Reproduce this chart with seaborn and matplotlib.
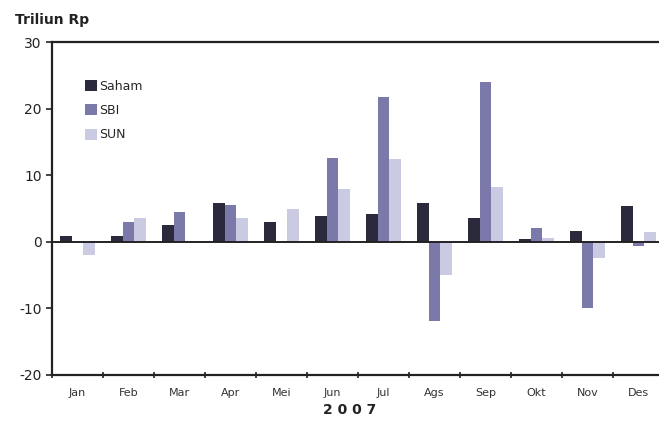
import numpy as np
import pandas as pd
import seaborn as sns
from matplotlib import pyplot as plt
from matplotlib.ticker import FixedLocator

months = ["Jan", "Feb", "Mar", "Apr", "Mei", "Jun", "Jul", "Ags", "Sep", "Okt", "Nov", "Des"]
saham = [0.8, 0.8, 2.5, 5.9, 3.0, 3.9, 4.2, 5.9, 3.6, 0.4, 1.6, 5.4]
sbi = [0.0, 3.0, 4.5, 5.6, 0.0, 12.6, 21.7, -11.9, 24.0, 2.0, -10.0, -0.7]
sun = [-2.0, 3.5, 0.0, 3.6, 5.0, 8.0, 12.5, -5.0, 8.2, 0.5, -2.5, 1.5]
series = ["Saham", "SBI", "SUN"]
colors = ["#2a2a3c", "#7b79aa", "#cacae2"]

rows = []
for name, vals in zip(series, [saham, sbi, sun]):
    for m, v in zip(months, vals):
        rows.append([m, name, v])
df = pd.DataFrame(rows, columns=["Bulan", "Seri", "Nilai"])

sns.set_style("white")
plt.rcParams['font.family'] = ['DejaVu Sans']
plt.rcParams['axes.unicode_minus'] = False

fig = plt.figure(figsize=(6.59, 4.25), dpi=100)
ax = fig.add_axes([52/659, 50/425, 612/659, 333/425])

sns.barplot(data=df, x="Bulan", y="Nilai", hue="Seri", order=months, hue_order=series,
            palette=colors, width=0.68, gap=0, saturation=1, linewidth=0, ax=ax)

ax.axhline(0, color="#222222", lw=1.4, zorder=1)
ax.set_ylim(-20, 30)
ax.set_xlim(-0.5, 11.5)
ax.set_yticks([-20, -10, 0, 10, 20, 30])
ax.tick_params(axis="y", labelsize=10, length=4, width=1.2, direction="out", left=True, colors="#222222")
ax.tick_params(axis="x", which="major", length=0, labelsize=8, colors="#333333", pad=9)
ax.xaxis.set_minor_locator(FixedLocator(np.arange(-0.5, 12, 1)))
ax.tick_params(axis="x", which="minor", length=4, width=1.2, direction="inout", bottom=True, color="#222222")
ax.set_xlabel("")
ax.set_ylabel("")

for side in ["left", "bottom", "top"]:
    ax.spines[side].set_visible(True)
    ax.spines[side].set_linewidth(1.6)
    ax.spines[side].set_color("#222222")
ax.spines["right"].set_visible(False)

leg = ax.legend(loc="upper left", bbox_to_anchor=(0.035, 0.92), frameon=False, fontsize=9,
                handlelength=1.0, handleheight=1.0, handletextpad=0.15, labelspacing=0.9)

fig.text(15/659, 1 - 20/425, "Triliun Rp", fontsize=10, fontweight="bold", color="#222222", va="center")
fig.text(350/659, 1 - 410/425, "2 0 0 7", fontsize=10, fontweight="bold", color="#222222", ha="center", va="center")

plt.savefig("out.png", dpi=100)
